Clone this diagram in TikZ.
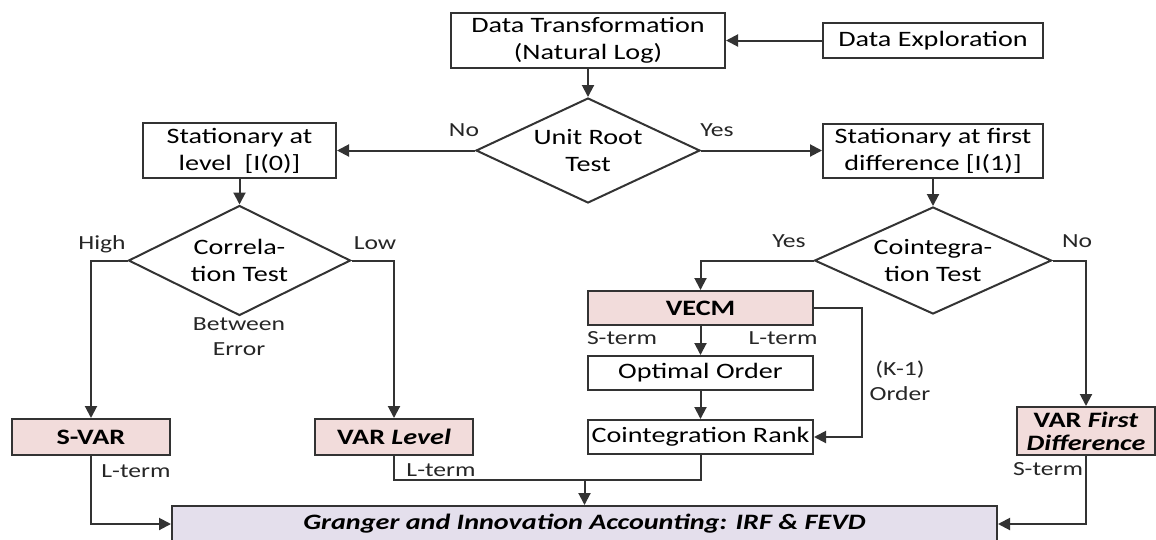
\documentclass[tikz,border=0pt]{standalone}
\usepackage{fontspec}
\setmainfont{Carlito}[FakeStretch=1.28]
\usetikzlibrary{shapes.geometric, arrows.meta, positioning}
\definecolor{boxpink}{HTML}{F2DCDB}
\definecolor{boxlilac}{HTML}{E4DFEC}
\definecolor{linegray}{HTML}{333333}

\begin{document}
\begin{tikzpicture}[x=1pt, y=-1pt,
    every node/.style={font=\fontsize{22}{27}\selectfont, inner sep=0pt, align=center, text=black},
    box/.style={draw=linegray, line width=2pt, rectangle},
    decision/.style={draw=linegray, line width=2pt, diamond, aspect=2},
    model/.style={box, fill=boxpink},
    result/.style={box, fill=boxlilac},
    lbl/.style={font=\fontsize{20}{25}\selectfont, text=black!85},
    arr/.style={draw=linegray, line width=2pt, -{Triangle[length=12pt, width=12pt]}},
    link/.style={draw=linegray, line width=2pt}]
    \useasboundingbox (0,0) rectangle (1156,539);

    % top row
    \node[box, minimum width=274, minimum height=55] (dt) at (588,40.5) {Data Transformation\\(Natural Log)};
    \node[box, minimum width=220, minimum height=35] (de) at (933,40.5) {Data Exploration};
    \node[decision, minimum width=224, minimum height=105] (ur) at (588,150.5) {Unit Root\\Test};
    \node[box, minimum width=193, minimum height=55] (lvl) at (239.5,150.5) {Stationary at\\level~~[I(0)]};
    \node[box, minimum width=220, minimum height=54] (fd) at (933,150.5) {Stationary at first\\difference [I(1)]};

    % tests
    \node[decision, minimum width=222, minimum height=110] (corr) at (239.5,260.5) {Correla-\\tion Test};
    \node[decision, aspect=2.2, minimum width=237, minimum height=107] (coint) at (933,260.5) {Cointegra-\\tion Test};

    % models
    \node[model, minimum width=158, minimum height=36] (svar) at (91,437) {\textbf{S-VAR}};
    \node[model, minimum width=158, minimum height=36] (varl) at (394,437) {\textbf{VAR \textit{Level}}};
    \node[model, minimum width=225, minimum height=34] (vecm) at (700.5,308) {\textbf{VECM}};
    \node[box, minimum width=225, minimum height=34] (opt) at (700.5,373) {Optimal Order};
    \node[box, minimum width=225, minimum height=34] (rank) at (700.5,437) {Cointegration Rank};
    \node[model, minimum width=138, minimum height=48] (varfd) at (1086,431) {\textbf{VAR \textit{First}}\\[-4pt]\textbf{\textit{Difference}}};
    \node[result, minimum width=825, minimum height=36] (granger) at (584.5,524) {\textbf{\textit{Granger and Innovation Accounting: IRF \& FEVD}}};

    % labels
    \foreach \n/\p/\t in {lno/{464,130}/No, lyes/{717,130}/Yes, lhigh/{102,244}/High, llow/{375,243}/Low,
        lbetw/{239,337}/Between\\Error, lyes2/{789,241}/Yes, lno2/{1077,241}/No,
        lsterm/{622,338}/S-term, llterm/{783,338}/L-term, lorder/{900,381}/(K-1)\\Order,
        lsvar/{136,471}/L-term, lvarl/{441,470}/L-term, lvarfd/{1048,469}/S-term}
        \node[lbl] (\n) at (\p) {\t};

    % connectors
    \draw[arr] (de) -- (dt);
    \draw[arr] (dt) -- (ur);
    \draw[arr] (ur) -- (lvl);
    \draw[arr] (ur) -- (fd);
    \draw[arr] (lvl) -- (corr);
    \draw[arr] (fd) -- (coint);
    \draw[arr] (corr.west) -| (svar.north);
    \draw[arr] (corr.east) -| (varl.north);
    \draw[arr] (coint.west) -| (vecm.north);
    \draw[arr] (coint.east) -| (varfd.north);
    \draw[arr] (vecm) -- (opt);
    \draw[arr] (opt) -- (rank);
    \coordinate (kbend) at (862,308);
    \draw[arr] (vecm.east) -- (kbend) |- (rank.east);
    \draw[arr] (svar.south) |- (granger.west);
    \draw[arr] (varfd.south) |- (granger.east);
    \coordinate (merge) at (584.5,480);
    \draw[link] (varl.south) |- (merge);
    \draw[link] (rank.south) |- (merge);
    \draw[arr] (merge) -- (granger.north);
\end{tikzpicture}
\end{document}
